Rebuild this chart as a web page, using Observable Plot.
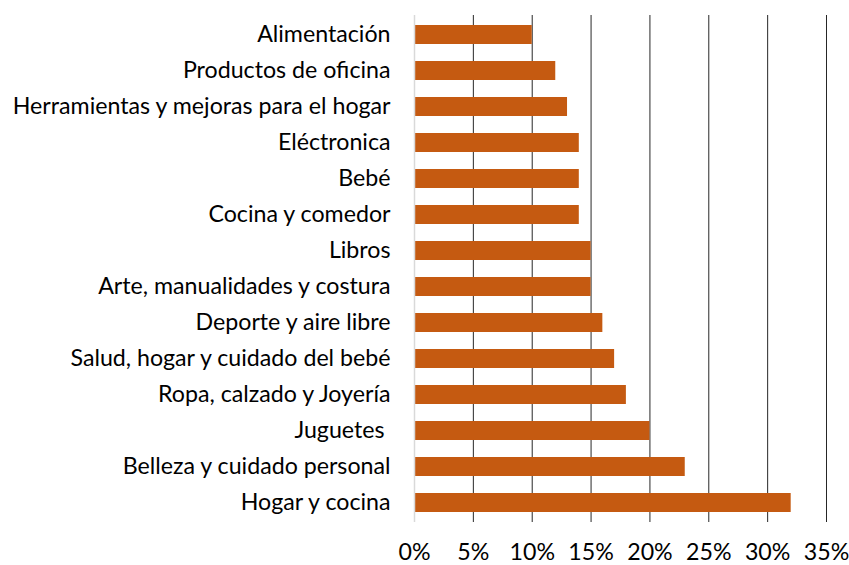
<!DOCTYPE html>
<html>
<head>
<meta charset="utf-8">
<script src="https://cdn.jsdelivr.net/npm/d3@7"></script>
<script src="https://cdn.jsdelivr.net/npm/@observablehq/plot@0.6"></script>
<style>
  html, body { margin: 0; padding: 0; background: #fff; }
  #chart { width: 849px; height: 565px; }
</style>
</head>
<body>
<div id="chart"></div>
<script>
const categories = [
  "Alimentación",
  "Productos de oficina",
  "Herramientas y mejoras para el hogar",
  "Eléctronica",
  "Bebé",
  "Cocina y comedor",
  "Libros",
  "Arte, manualidades y costura",
  "Deporte y aire libre",
  "Salud, hogar y cuidado del bebé",
  "Ropa, calzado y Joyería",
  "Juguetes ",
  "Belleza y cuidado personal",
  "Hogar y cocina"
];
const values = [0.10, 0.12, 0.13, 0.14, 0.14, 0.14, 0.15, 0.15, 0.16, 0.17, 0.18, 0.20, 0.23, 0.32];
const xTicks = [0, 0.05, 0.10, 0.15, 0.20, 0.25, 0.30, 0.35];

const data = categories.map((c, i) => ({category: c, value: values[i]}));

const chart = Plot.plot({
  width: 849,
  height: 565,
  marginLeft: 414,
  marginRight: 23,
  marginTop: 15,
  marginBottom: 43,
  style: {fontFamily: "Lato, sans-serif", fontSize: "23.2px", color: "#000", background: "#fff"},
  x: {domain: [0, 0.35], ticks: xTicks, tickFormat: d => Math.round(d * 100) + "%", label: null, tickSize: 0, tickPadding: 21},
  y: {domain: categories, label: null, tickSize: 0, tickPadding: 24, paddingInner: 0.46, paddingOuter: 0.23},
  marks: [
    Plot.ruleX(xTicks.filter(d => d > 0), {stroke: "#000", strokeWidth: 1, strokeOpacity: 0.85}),
    Plot.barX(data, {x: "value", y: "category", fill: "#C55A11"}),
    Plot.ruleX([0], {stroke: "#d9d9d9", strokeWidth: 1.5})
  ]
});
document.getElementById("chart").appendChild(chart);
</script>
</body>
</html>
